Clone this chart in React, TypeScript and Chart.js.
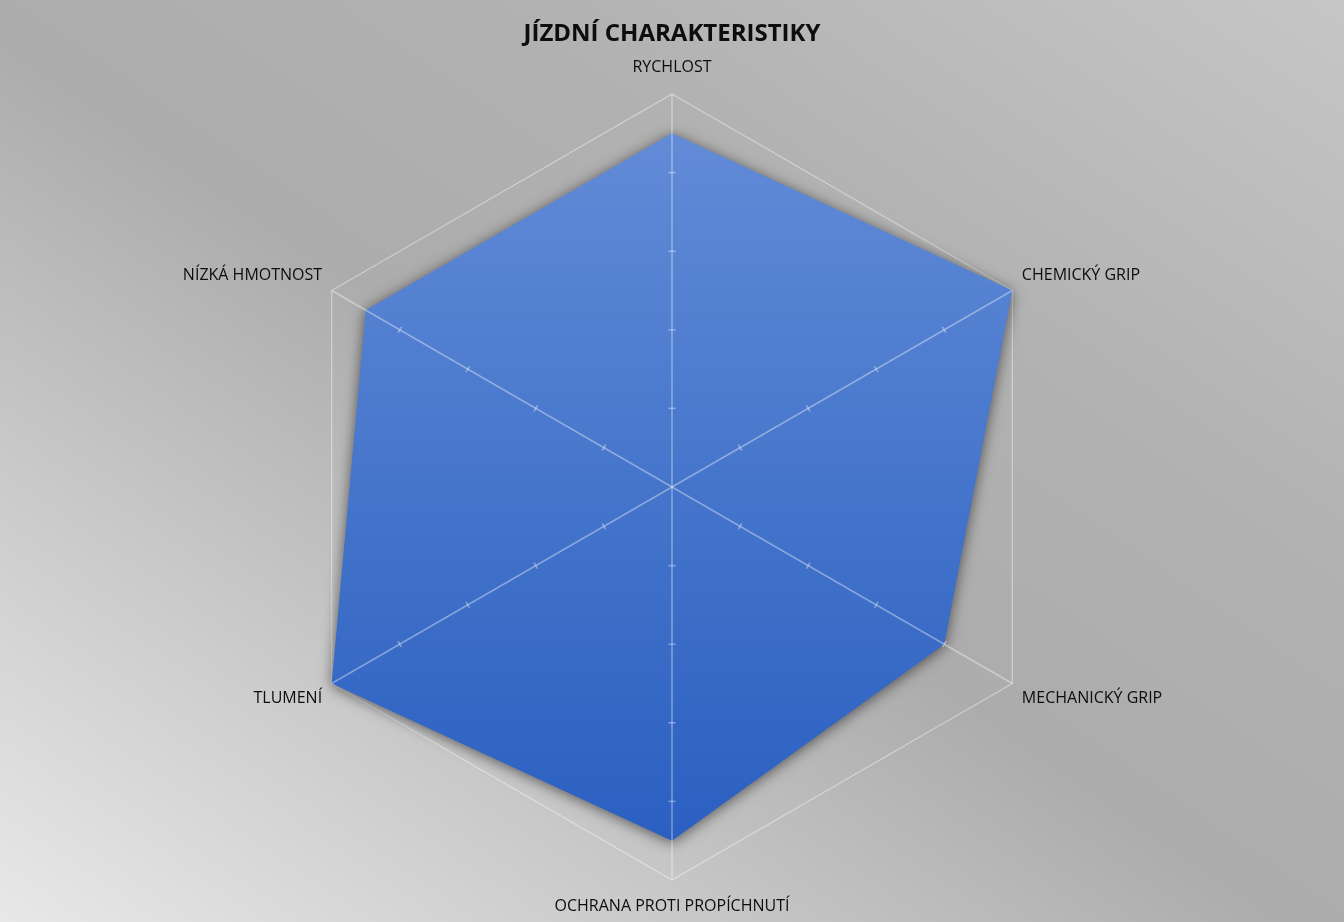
import React, { useEffect, useRef } from "react";
import { Chart, registerables } from "chart.js";

Chart.register(...registerables);

const chartTitle = "JÍZDNÍ CHARAKTERISTIKY";
const categories = [
  "RYCHLOST",
  "CHEMICKÝ GRIP",
  "MECHANICKÝ GRIP",
  "OCHRANA PROTI PROPÍCHNUTÍ",
  "TLUMENÍ",
  "NÍZKÁ HMOTNOST",
];
const values = [9, 10, 8, 9, 10, 9];
const scaleMin = 0;
const scaleMax = 10;
const scaleStep = 2;

const FONT = "'Open Sans', 'Noto Sans', sans-serif";

const shadowAndAxes = {
  id: "shadowAndAxes",
  beforeDatasetsDraw(chart: any) {
    const c = chart.ctx;
    c.save();
    c.shadowColor = "rgba(0,0,0,0.55)";
    c.shadowBlur = 14;
    c.shadowOffsetX = 0;
    c.shadowOffsetY = 2;
  },
  afterDatasetsDraw(chart: any) {
    const c = chart.ctx;
    c.restore();
    const scale = chart.scales.r;
    const n = chart.data.labels.length;
    c.save();
    c.strokeStyle = "rgba(255,255,255,0.38)";
    c.lineWidth = 1.5;
    for (let i = 0; i < n; i++) {
      const p = scale.getPointPositionForValue(i, scaleMax);
      c.beginPath();
      c.moveTo(scale.xCenter, scale.yCenter);
      c.lineTo(p.x, p.y);
      c.stroke();
      const ang = scale.getIndexAngle(i) - Math.PI / 2;
      const nx = -Math.sin(ang);
      const ny = Math.cos(ang);
      for (let v = scaleMin + scaleStep; v < scaleMax; v += scaleStep) {
        const q = scale.getPointPositionForValue(i, v);
        c.beginPath();
        c.moveTo(q.x - nx * 3.5, q.y - ny * 3.5);
        c.lineTo(q.x + nx * 3.5, q.y + ny * 3.5);
        c.stroke();
      }
    }
    c.restore();
  },
};

export default function App() {
  const ref = useRef<HTMLCanvasElement | null>(null);

  useEffect(() => {
    if (!ref.current) return;
    const chart = new Chart(ref.current, {
      type: "radar",
      data: {
        labels: categories,
        datasets: [
          {
            data: values,
            borderWidth: 0,
            pointRadius: 0,
            pointHoverRadius: 0,
            fill: true,
            backgroundColor: (ctx: any) => {
              const ch = ctx.chart;
              const area = ch.chartArea;
              if (!area) return "#4472c4";
              const g = ch.ctx.createLinearGradient(0, area.top, 0, area.bottom);
              g.addColorStop(0, "#6890da");
              g.addColorStop(0.5, "#4575cb");
              g.addColorStop(1, "#255bbf");
              return g;
            },
          },
        ],
      },
      options: {
        animation: false,
        responsive: true,
        maintainAspectRatio: false,
        layout: { padding: { top: 0, bottom: 4, left: 0, right: 0 } },
        plugins: {
          legend: { display: false },
          tooltip: { enabled: false },
          title: {
            display: true,
            text: chartTitle,
            color: "#0d0d0d",
            font: { family: FONT, size: 24, weight: "bold" },
            padding: { top: 20, bottom: 9 },
          },
        },
        scales: {
          r: {
            min: scaleMin,
            max: scaleMax,
            ticks: { stepSize: scaleStep, display: false },
            angleLines: { display: false },
            grid: {
              lineWidth: 1.2,
              color: (ctx: any) =>
                ctx.tick && ctx.tick.value === scaleMax ? "rgba(255,255,255,0.42)" : "rgba(0,0,0,0)",
            },
            pointLabels: {
              color: "#0d0d0d",
              font: { family: FONT, size: 16 },
              padding: (ctx: any) => (ctx.index === 0 || ctx.index === 3 ? 17 : 11),
            },
          },
        },
      },
      plugins: [shadowAndAxes],
    });
    return () => chart.destroy();
  }, []);

  return (
    <div
      style={{
        position: "absolute",
        left: 0,
        top: 0,
        width: 1344,
        height: 922,
        background:
          "linear-gradient(to top right, #e8e8e8 0%, #cdcdcd 22%, #acacac 48%, #b2b2b2 70%, #c6c6c6 100%)",
      }}
    >
      <canvas ref={ref} />
    </div>
  );
}
